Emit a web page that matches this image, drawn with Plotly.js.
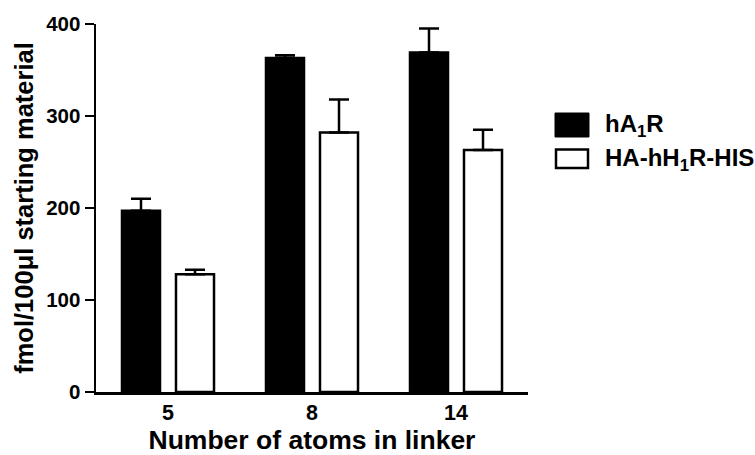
<!DOCTYPE html>
<html>
<head>
<meta charset="utf-8">
<script src="https://cdn.plot.ly/plotly-3.0.1.min.js"></script>
<style>html,body{margin:0;padding:0;background:#fff;}#chart{width:755px;height:455px;}</style>
</head>
<body>
<div id="chart"></div>
<script>
// Data
const categories = ['5', '8', '14'];
const seriesNames = ['hA<sub>1</sub>R', 'HA-hH<sub>1</sub>R-HIS'];
const hA1R = [197, 363, 369];
const hA1R_err = [13, 3, 26];
const hH1R = [128, 282, 263];
const hH1R_err = [5, 36, 22];
const yTicks = [0, 100, 200, 300, 400];
const xTitle = 'Number of atoms in linker';
const yTitle = 'fmol/100μl starting material';

const FONT = 'Liberation Sans, Arial, Helvetica, sans-serif';
const L = 96, R = 528, T = 24, B = 392;
const px = x => (x - L) / (R - L);
const py = y => (B - y) / (B - T);

const errStyle = {type: 'data', symmetric: false, thickness: 2.5, width: 10, color: '#000'};

const traces = [
  {
    type: 'bar', name: seriesNames[0], x: categories, y: hA1R,
    marker: {color: '#000', line: {color: '#000', width: 2.5}},
    error_y: Object.assign({array: hA1R_err, arrayminus: hA1R_err.map(() => 0)}, errStyle),
    showlegend: false, hoverinfo: 'skip'
  },
  {
    type: 'bar', name: seriesNames[1], x: categories, y: hH1R,
    marker: {color: '#fff', line: {color: '#000', width: 2.5}},
    error_y: Object.assign({array: hH1R_err, arrayminus: hH1R_err.map(() => 0)}, errStyle),
    showlegend: false, hoverinfo: 'skip'
  }
];

const layout = {
  width: 755, height: 455,
  margin: {l: L, r: 755 - R, t: T, b: 455 - B, pad: 0},
  paper_bgcolor: '#fff', plot_bgcolor: '#fff',
  barmode: 'group', bargap: 0.25, bargroupgap: 0.296,
  font: {family: FONT, color: '#000', weight: 'bold'},
  xaxis: {
    type: 'category', range: [-0.5, 2.5],
    showline: true, linecolor: '#000', linewidth: 2.5,
    ticks: '', showgrid: false, zeroline: false,
    tickfont: {family: FONT, size: 21.5, weight: 'bold', color: '#000'},
    title: {text: xTitle, font: {family: FONT, size: 26.5, weight: 'bold', color: '#000'}, standoff: 19}
  },
  yaxis: {
    range: [0, 400], tickvals: yTicks, ticktext: yTicks.map(String),
    showline: true, linecolor: '#000', linewidth: 2.5,
    ticks: 'outside', ticklen: 9, tickwidth: 2.5, tickcolor: '#000',
    showgrid: false, zeroline: false,
    tickfont: {family: FONT, size: 20.5, weight: 'bold', color: '#000'},
    title: {text: yTitle, font: {family: FONT, size: 25.5, weight: 'bold', color: '#000'}, standoff: 6}
  },
  shapes: [
    {type: 'rect', xref: 'paper', yref: 'paper', x0: px(555), x1: px(589), y0: py(137), y1: py(113),
     fillcolor: '#000', line: {color: '#000', width: 1}},
    {type: 'rect', xref: 'paper', yref: 'paper', x0: px(556), x1: px(588), y0: py(168), y1: py(149.5),
     fillcolor: '#fff', line: {color: '#000', width: 2.5}}
  ],
  annotations: [
    {xref: 'paper', yref: 'paper', x: px(603), y: py(125), xanchor: 'left', yanchor: 'middle', showarrow: false,
     text: seriesNames[0], font: {family: FONT, size: 24, weight: 'bold', color: '#000'}},
    {xref: 'paper', yref: 'paper', x: px(603), y: py(159), xanchor: 'left', yanchor: 'middle', showarrow: false,
     text: seriesNames[1], font: {family: FONT, size: 24, weight: 'bold', color: '#000'}}
  ]
};

Plotly.newPlot('chart', traces, layout, {staticPlot: true, displayModeBar: false});
</script>
</body>
</html>
